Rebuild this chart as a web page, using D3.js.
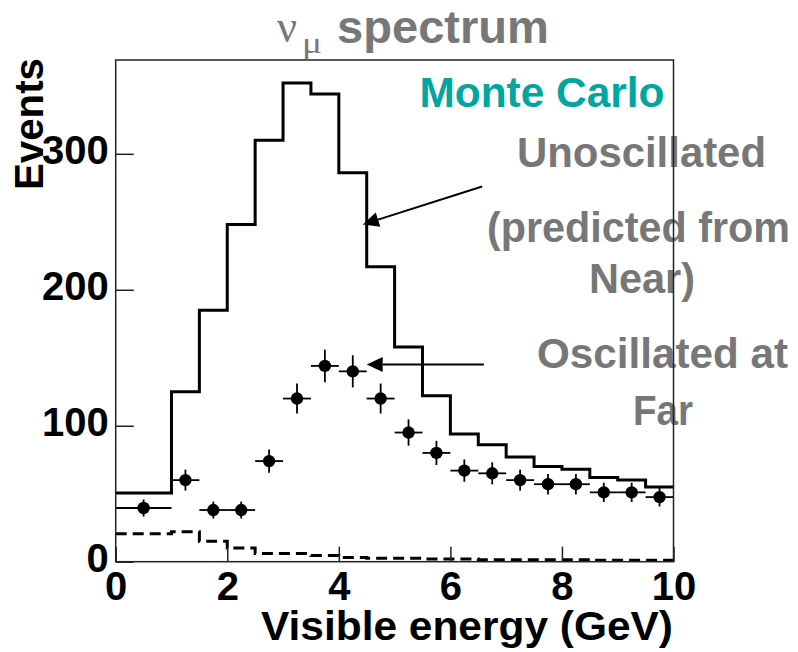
<!DOCTYPE html>
<html><head><meta charset="utf-8">
<script src="https://cdn.jsdelivr.net/npm/d3@7"></script>
<style>html,body{margin:0;padding:0;background:#fff;}svg{display:block;}</style>
</head><body>
<script>
// ---- data ----
const histEdges = [0,1,1.5,2,2.5,3,3.5,4,4.5,5,5.5,6,6.5,7,7.5,8,8.5,9,9.5,10];
const unoscillated = [50.5,125,185,248,310,352,344,286,217,158,122,94,86,77,70,68,62,60,55];
const bgEdges = [0,0.5,1,1.5,2,2.5,3,3.5,4,4.5,5,5.5,6,6.5,7,7.5,8,8.5,9,9.5,10];
const background = [20.5,20.5,22,15,10,6,6,4.5,3,2.5,2.5,2,2,1.5,1.5,1.5,1.5,1,1,1];
const pointX = [0.5,1.25,1.75,2.25,2.75,3.25,3.75,4.25,4.75,5.25,5.75,6.25,6.75,7.25,7.75,8.25,8.75,9.25,9.75];
const pointXErr = [0.5,0.25,0.25,0.25,0.25,0.25,0.25,0.25,0.25,0.25,0.25,0.25,0.25,0.25,0.25,0.25,0.25,0.25,0.25];
const oscillated = [39.5,60,38,38,74,120,144,140,120,95,80,67,65,60,57,57,51,51,47.5];
const oscErr = [6.3,7.7,6.2,6.2,8.6,11,12,11.8,11,9.7,8.9,8.2,8.1,7.7,7.5,7.5,7.1,7.1,6.9];
const xTicks = [0,2,4,6,8,10];
const yTicks = [0,100,200,300];
// arrows in data units: [fromX, fromY, toX, toY]
const arrows = [[6.57,276,4.43,248],[6.6,145,4.5,145]];

const W = 798, H = 652;
const M = {left:115.7, right:124.5, top:60, bottom:90.3};
const svg = d3.select("body").append("svg").attr("width",W).attr("height",H);
const x = d3.scaleLinear().domain([0,10]).range([M.left, W-M.right]);
const y = d3.scaleLinear().domain([0,369]).range([H-M.bottom, M.top]);
const FONT = "'Liberation Sans', Arial, Helvetica, sans-serif";
const SERIF = "'Liberation Serif','DejaVu Serif',serif";
const GRAY = "#777777";

// ---- annotation texts (under frame) ----
function txt(str, cx, by, size, color, len, anchor){
  const t = svg.append("text").attr("x",cx).attr("y",by)
    .attr("text-anchor",anchor||"middle").attr("font-family",FONT)
    .attr("font-weight","bold").attr("font-size",size).attr("fill",color).text(str);
  if(len) t.attr("textLength",len).attr("lengthAdjust","spacingAndGlyphs");
  return t;
}
txt("Monte Carlo", 542, 107, 42, "#00a69f", 245);
txt("Unoscillated", 641.5, 166.5, 42, GRAY, 249);
txt("(predicted from", 638.5, 241.5, 42, GRAY, 303);
txt("Near)", 642, 293, 42, GRAY, 106);
txt("Oscillated at", 662.5, 368, 42, GRAY, 251);
txt("Far", 663, 425, 42, GRAY, 60);

// title
svg.append("text").attr("x",277).attr("y",42).attr("font-family",SERIF)
  .attr("font-size",46).attr("fill",GRAY).attr("textLength",20).attr("lengthAdjust","spacingAndGlyphs").text("ν");
svg.append("text").attr("x",302).attr("y",53).attr("font-family",SERIF)
  .attr("font-size",30).attr("fill",GRAY).attr("textLength",20).attr("lengthAdjust","spacingAndGlyphs").text("μ");
txt("spectrum", 337, 43, 46, GRAY, 212, "start");

// ---- histogram (unoscillated) ----
function stepPts(edges, vals){
  const pts=[];
  vals.forEach((v,i)=>{pts.push([edges[i],v]);pts.push([edges[i+1],v]);});
  return pts;
}
const line = d3.line().x(d=>x(d[0])).y(d=>y(d[1]));
svg.append("path").attr("d",line(stepPts(histEdges,unoscillated)))
  .attr("fill","none").attr("stroke","#000").attr("stroke-width",3).attr("stroke-linejoin","miter");
svg.append("path").attr("d",line(stepPts(bgEdges,background)))
  .attr("fill","none").attr("stroke","#000").attr("stroke-width",3).attr("stroke-dasharray","11,6");

// ---- points with error bars ----
const pts = pointX.map((px,i)=>({x:px,xe:pointXErr[i],y:oscillated[i],ye:oscErr[i]}));
const g = svg.append("g");
g.selectAll(".xe").data(pts).join("line")
  .attr("x1",d=>x(d.x-d.xe)).attr("x2",d=>x(d.x+d.xe)).attr("y1",d=>y(d.y)).attr("y2",d=>y(d.y))
  .attr("stroke","#000").attr("stroke-width",1.8);
g.selectAll(".ye").data(pts).join("line")
  .attr("x1",d=>x(d.x)).attr("x2",d=>x(d.x)).attr("y1",d=>y(d.y-d.ye)).attr("y2",d=>y(d.y+d.ye))
  .attr("stroke","#000").attr("stroke-width",1.8);
g.selectAll("circle").data(pts).join("circle")
  .attr("cx",d=>x(d.x)).attr("cy",d=>y(d.y)).attr("r",6.2).attr("fill","#000");

// ---- axes ----
const yAxis = d3.axisLeft(y).tickValues(yTicks).tickSize(-18).tickPadding(7).tickFormat(d3.format("d"));
const ya = svg.append("g").attr("transform",`translate(${M.left},0)`).call(yAxis);
const xAxis = d3.axisBottom(x).tickValues(xTicks).tickSize(-15).tickPadding(10).tickFormat(d3.format("d"));
const xa = svg.append("g").attr("transform",`translate(0,${H-M.bottom})`).call(xAxis);
[ya,xa].forEach(a=>{
  a.select(".domain").remove();
  a.selectAll(".tick line").attr("stroke","#222").attr("stroke-width",1.5);
  a.selectAll("text").attr("font-family",FONT).attr("font-weight","bold").attr("font-size",40).attr("fill","#000");
});
ya.selectAll("text").attr("dy","0.25em");

// frame
svg.append("rect").attr("x",M.left).attr("y",M.top).attr("width",W-M.left-M.right).attr("height",H-M.top-M.bottom)
  .attr("fill","none").attr("stroke","#222").attr("stroke-width",1.5);

// axis titles
svg.append("text").attr("transform","translate(43,124) rotate(-90)").attr("text-anchor","middle")
  .attr("font-family",FONT).attr("font-weight","bold").attr("font-size",41).attr("fill","#000")
  .attr("textLength",132).attr("lengthAdjust","spacingAndGlyphs").text("Events");
txt("Visible energy (GeV)", 673, 640, 40, "#000", 412, "end");

// ---- arrows ----
arrows.forEach(a=>{
  const x1=x(a[0]),y1=y(a[1]),x2=x(a[2]),y2=y(a[3]);
  const ang=Math.atan2(y2-y1,x2-x1), L=16, Hw=7.5;
  const bx=x2-L*Math.cos(ang), by=y2-L*Math.sin(ang);
  svg.append("line").attr("x1",x1).attr("y1",y1).attr("x2",bx).attr("y2",by)
    .attr("stroke","#000").attr("stroke-width",2);
  const p=[[x2,y2],[bx+Hw*Math.sin(ang),by-Hw*Math.cos(ang)],[bx-Hw*Math.sin(ang),by+Hw*Math.cos(ang)]];
  svg.append("path").attr("d","M"+p.map(q=>q.join(",")).join("L")+"Z").attr("fill","#000");
});
</script>
</body></html>
